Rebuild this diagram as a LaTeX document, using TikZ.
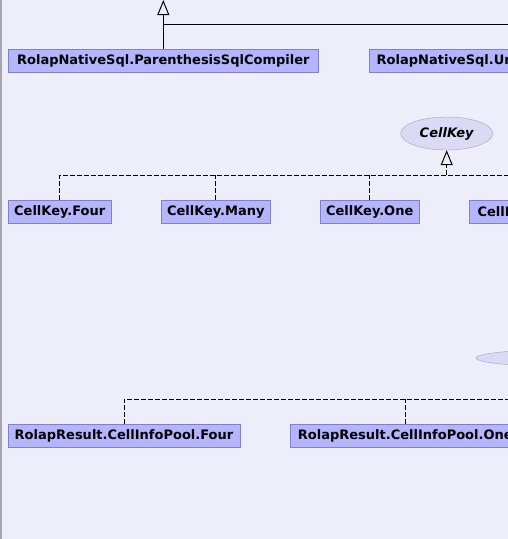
\documentclass[tikz,border=0pt]{standalone}
\usepackage{fontspec}
\newfontfamily\dejavu{DejaVu Sans}
\usepackage{tikz}
\usetikzlibrary{arrows.meta,shapes.geometric}
\definecolor{bg}{RGB}{238,238,251}
\definecolor{classfill}{RGB}{180,180,255}
\definecolor{classline}{RGB}{128,128,200}
\definecolor{ifacefill}{RGB}{218,218,245}
\definecolor{ifaceline}{RGB}{160,160,185}
\definecolor{frame}{RGB}{165,165,180}

\begin{document}
\begin{tikzpicture}[
    x=1pt,y=-1pt,
    Class/.style={draw=classline,fill=classfill,font=\dejavu\bfseries\fontsize{13}{15}\selectfont,minimum height=23pt,inner xsep=5pt,inner ysep=0pt},
    Cut/.style={Class,anchor=west,align=left,inner xsep=8pt},
    Iface/.style={ellipse,draw=ifaceline,fill=ifacefill,font=\dejavu\bfseries\itshape\fontsize{13}{15}\selectfont,inner sep=0pt},
    Line/.style={black,line width=1pt},
    Realize/.style={Line,dash pattern=on 5pt off 2pt},
    Hollow/.style={-{Triangle[open,width=12pt,length=15pt]}},
    ]

    \useasboundingbox (0,0) rectangle (508,539);
    \fill[bg] (0,0) rectangle (508,539);
    \draw[frame,line width=1.5pt] (1,0) -- (1,539);
    \clip (0,0) rectangle (508,539);

    % RolapNativeSql
    \node[Class,minimum width=310.5pt] (ParenSql) at (163.3,60.5) {RolapNativeSql.ParenthesisSqlCompiler};
    \node[Cut,text width=280pt] (UnionSql) at (368.5,60.5) {RolapNativeSql.Un};
    \coordinate (nsParent) at (ParenSql.north |- 0,0);
    \coordinate (nsBus) at (0,24);

    \draw[Line,Hollow] (ParenSql.north) -- (nsParent);
    \draw[Line] (UnionSql.north) |- (ParenSql.north |- nsBus);

    % CellKey
    \node[Iface,minimum width=92pt,minimum height=33pt] (CellKey) at (446.7,133.5) {CellKey};
    \node[Class,minimum width=103.3pt] (CellKeyFour) at (59.7,211.7) {CellKey.Four};
    \node[Class,minimum width=109.7pt] (CellKeyMany) at (215.8,211.7) {CellKey.Many};
    \node[Class,minimum width=99.3pt] (CellKeyOne) at (369.7,211.7) {CellKey.One};
    \node[Cut,text width=84pt] (CellKeyNext) at (469.3,211.7) {CellK};
    \coordinate (ckBus) at (0,175);

    \draw[Realize] (CellKeyFour.north) |- (CellKeyNext.north |- ckBus) -- (CellKeyNext.north);
    \foreach \c in {CellKeyMany,CellKeyOne}
      \draw[Realize] (\c.north) -- (\c.north |- ckBus);
    \draw[Realize,Hollow] (CellKey.south |- ckBus) -- (CellKey.south);

    % RolapResult.CellInfoPool
    \node[Iface,minimum width=200pt,minimum height=18pt] (CellInfoPool) at (576,358) {};
    \node[Class,minimum width=232pt] (CipFour) at (124,435.8) {RolapResult.CellInfoPool.Four};
    \node[Class,minimum width=230pt] (CipOne) at (405.3,435.8) {RolapResult.CellInfoPool.One};
    \coordinate (cipBus) at (0,399.3);

    \draw[Realize] (CipFour.north) |- (CellInfoPool.south |- cipBus);
    \draw[Realize] (CipOne.north) -- (CipOne.north |- cipBus);
    \draw[Realize,Hollow] (CellInfoPool.south |- cipBus) -- (CellInfoPool.south);
  \end{tikzpicture}
\end{document}
